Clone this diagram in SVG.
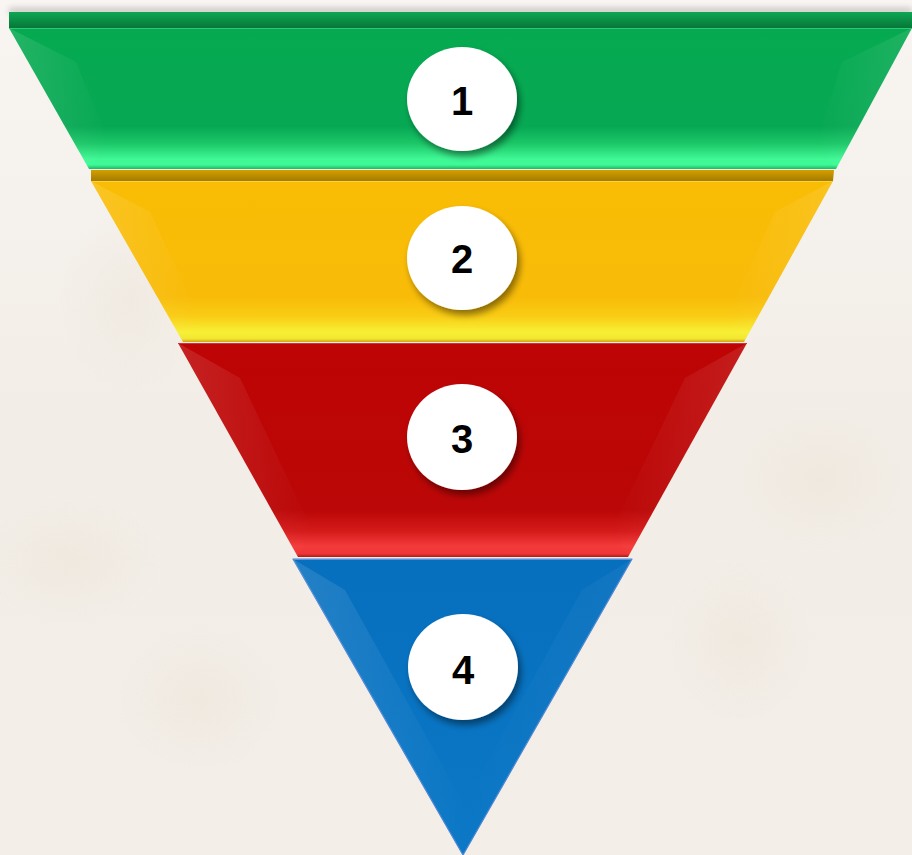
<svg xmlns="http://www.w3.org/2000/svg" width="912" height="855" viewBox="0 0 912 855">
<defs>
<style>
.num{font-family:"Liberation Sans",Arial,sans-serif;font-weight:bold;font-size:40px;fill:#000;text-anchor:middle}
.badge{fill:#fff;filter:url(#sh)}
.bevL{fill:url(#bevL)}
.bevR{fill:url(#bevR)}
</style>
<linearGradient id="bg" x1="0" y1="0" x2="0" y2="1">
<stop offset="0" stop-color="#f8f5f2"/>
<stop offset="0.5" stop-color="#f2ede6"/>
<stop offset="1" stop-color="#f3eee8"/>
</linearGradient>
<radialGradient id="bgspot" cx="0.5" cy="0.5" r="0.5">
<stop offset="0" stop-color="#e9e0d2" stop-opacity="0.7"/>
<stop offset="1" stop-color="#e9e0d2" stop-opacity="0"/>
</radialGradient>
<linearGradient id="bevL" x1="0" y1="0" x2="1" y2="0">
<stop offset="0" stop-color="#fff" stop-opacity="0.12"/>
<stop offset="1" stop-color="#fff" stop-opacity="0"/>
</linearGradient>
<linearGradient id="bevR" x1="1" y1="0" x2="0" y2="0">
<stop offset="0" stop-color="#fff" stop-opacity="0.1"/>
<stop offset="1" stop-color="#fff" stop-opacity="0"/>
</linearGradient>
<linearGradient id="gFace" x1="0" y1="28" x2="0" y2="169" gradientUnits="userSpaceOnUse">
<stop offset="0" stop-color="#05aa50"/>
<stop offset="0.7" stop-color="#07a854"/>
<stop offset="0.82" stop-color="#1cc768"/>
<stop offset="0.93" stop-color="#40f895"/>
<stop offset="0.97" stop-color="#3dfa96"/>
<stop offset="1" stop-color="#20b860"/>
</linearGradient>
<linearGradient id="gStrip" x1="0" y1="12" x2="0" y2="27" gradientUnits="userSpaceOnUse">
<stop offset="0" stop-color="#0ea755"/>
<stop offset="1" stop-color="#077a3a"/>
</linearGradient>
<linearGradient id="yFace" x1="0" y1="180" x2="0" y2="342" gradientUnits="userSpaceOnUse">
<stop offset="0" stop-color="#fabd05"/>
<stop offset="0.72" stop-color="#f8bb08"/>
<stop offset="0.84" stop-color="#f9cc14"/>
<stop offset="0.94" stop-color="#f7f035"/>
<stop offset="0.98" stop-color="#f2e630"/>
<stop offset="1" stop-color="#c9a516"/>
</linearGradient>
<linearGradient id="yStrip" x1="0" y1="170" x2="0" y2="180" gradientUnits="userSpaceOnUse">
<stop offset="0" stop-color="#d4a000"/>
<stop offset="1" stop-color="#a87e00"/>
</linearGradient>
<linearGradient id="rFace" x1="0" y1="343" x2="0" y2="557" gradientUnits="userSpaceOnUse">
<stop offset="0" stop-color="#be0404"/>
<stop offset="0.78" stop-color="#bb0707"/>
<stop offset="0.88" stop-color="#d51a1a"/>
<stop offset="0.95" stop-color="#f43b3b"/>
<stop offset="0.985" stop-color="#ee3636"/>
<stop offset="1" stop-color="#b01818"/>
</linearGradient>
<linearGradient id="bFace" x1="0" y1="559" x2="0" y2="855" gradientUnits="userSpaceOnUse">
<stop offset="0" stop-color="#066fbe"/>
<stop offset="1" stop-color="#0b78c6"/>
</linearGradient>
<filter id="sh" x="-30%" y="-30%" width="170%" height="170%">
<feGaussianBlur in="SourceAlpha" stdDeviation="3.5"/>
<feOffset dx="3" dy="5" result="b"/>
<feComponentTransfer><feFuncA type="linear" slope="0.45"/></feComponentTransfer>
<feMerge><feMergeNode/><feMergeNode in="SourceGraphic"/></feMerge>
</filter>
<filter id="topsh" x="-5%" y="-100%" width="110%" height="300%">
<feGaussianBlur stdDeviation="3"/>
</filter>
</defs>

<rect id="background" x="0" y="0" width="912" height="855" fill="url(#bg)"/>
<g id="bg-texture" opacity="0.5">
<ellipse cx="70" cy="560" rx="90" ry="60" fill="url(#bgspot)"/>
<ellipse cx="130" cy="300" rx="70" ry="90" fill="url(#bgspot)"/>
<ellipse cx="820" cy="480" rx="90" ry="70" fill="url(#bgspot)"/>
<ellipse cx="740" cy="640" rx="70" ry="80" fill="url(#bgspot)"/>
<ellipse cx="200" cy="700" rx="80" ry="70" fill="url(#bgspot)"/>
</g>

<rect x="9" y="8" width="903" height="6" fill="#000" opacity="0.2" filter="url(#topsh)"/>

<g id="layer1">
<rect x="9" y="12" width="903" height="16" fill="url(#gStrip)"/>
<polygon points="9,28 912,28 836,169 89,169" fill="url(#gFace)"/>
<polygon class="bevL" points="9,28 76,62 108,141 89,169"/>
<polygon class="bevR" points="912,28 842,62 817,141 836,169"/>
<line x1="9" y1="28.5" x2="912" y2="28.5" stroke="#30c878" stroke-width="1"/>
</g>

<g id="layer2">
<polygon points="91,170 834,170 833,181 91,181" fill="url(#yStrip)"/>
<polygon points="91,181 833,181 744,342 183,342" fill="url(#yFace)"/>
<polygon class="bevL" points="91,181 150,212 198,315 183,342"/>
<polygon class="bevR" points="833,181 775,212 728,315 744,342"/>
<line x1="91" y1="181.5" x2="833" y2="181.5" stroke="#ffd23a" stroke-width="1"/>
</g>

<g id="layer3">
<polygon points="178,343 747,343 628,557 298,557" fill="url(#rFace)"/>
<polygon class="bevL" points="178,343 240,378 312,530 298,557"/>
<polygon class="bevR" points="747,343 685,378 612,530 628,557"/>
<line x1="178" y1="343.5" x2="747" y2="343.5" stroke="#d83030" stroke-width="1"/>
</g>

<g id="layer4">
<polygon points="293,559 632,559 463,855" fill="url(#bFace)" stroke="#4a86d4" stroke-width="1.2" stroke-linejoin="round"/>
<polygon class="bevL" points="293,559 345,590 470,815 463,855"/>
<polygon class="bevR" points="632,559 582,590 458,815 463,855" opacity="0.5"/>
<line x1="294" y1="559.5" x2="631" y2="559.5" stroke="#5a94dc" stroke-width="1.2"/>
</g>

<g id="badge1">
<ellipse class="badge" cx="462" cy="99" rx="55" ry="52"/>
<text class="num" x="462" y="115">1</text>
</g>
<g id="badge2">
<ellipse class="badge" cx="462" cy="258" rx="55" ry="52"/>
<text class="num" x="462" y="273">2</text>
</g>
<g id="badge3">
<ellipse class="badge" cx="462" cy="437" rx="55" ry="53"/>
<text class="num" x="462" y="453">3</text>
</g>
<g id="badge4">
<ellipse class="badge" cx="463" cy="667" rx="55" ry="53"/>
<text class="num" x="463" y="684">4</text>
</g>

<g id="connectors"></g>
</svg>
